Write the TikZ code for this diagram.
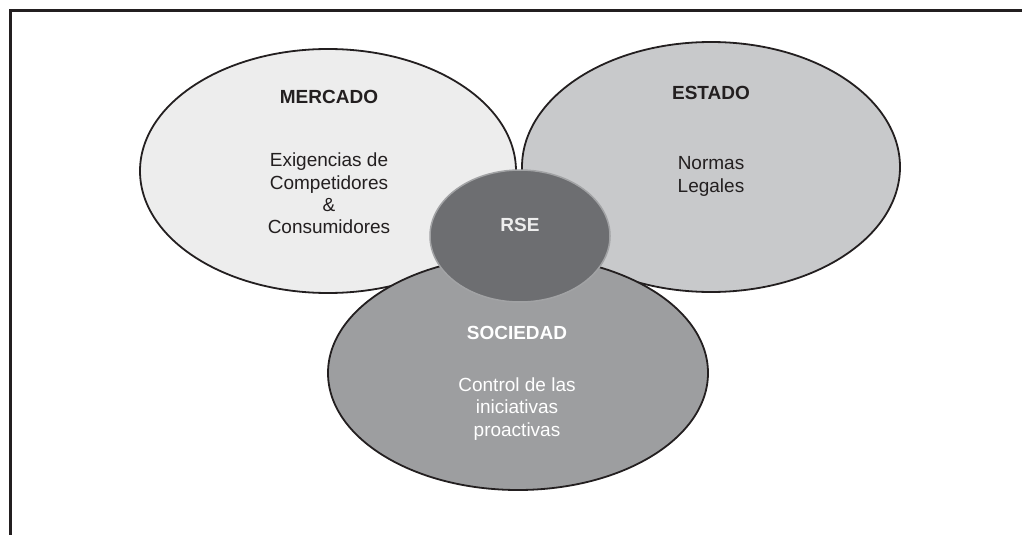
\documentclass[tikz,border=0pt]{standalone}
\usepackage{fontspec}
\setmainfont{Liberation Sans}
\usetikzlibrary{shapes.geometric}
\definecolor{grisclaro}{HTML}{EDEDED}
\definecolor{grismedio}{HTML}{C8C9CB}
\definecolor{grisoscuro}{HTML}{9D9EA0}
\definecolor{grisrse}{HTML}{6D6E71}
\definecolor{bordrse}{HTML}{A2A3A5}
\definecolor{tinta}{HTML}{231F20}

\begin{document}
\begin{tikzpicture}[x=1pt,y=-1pt,
        esfera/.style={ellipse,draw=tinta,line width=1.8pt,inner sep=0pt},
        titulo/.style={font=\bfseries\fontsize{19}{22.3}\selectfont},
        cuerpo/.style={align=center,font=\fontsize{19}{22.3}\selectfont}]
        \useasboundingbox (0,0) rectangle (1022,535);
        %marco
        \draw[tinta,line width=2.6pt] (10.5,535) -- (10.5,10.5) -- (1022,10.5);
        \node[esfera,fill=grisclaro,minimum width=376pt,minimum height=244pt] (mercado) at (328,171) {};
        \node[esfera,fill=grismedio,minimum width=378pt,minimum height=250pt] (estado) at (711,167) {};
        \node[esfera,fill=grisoscuro,minimum width=380pt,minimum height=234pt] (sociedad) at (518,373) {};
        \node[ellipse,fill=grisrse,draw=bordrse,line width=1.5pt,minimum width=180pt,minimum height=132pt] (rse) at (520,236) {};
        % textos
        \node[titulo,text=tinta] (tmercado) at (329,97) {MERCADO};
        \node[cuerpo,text=tinta] (cmercado) at (329,193.5) {Exigencias de\\Competidores\\\&\\Consumidores};
        \node[titulo,text=tinta] (testado) at (711,93) {ESTADO};
        \node[cuerpo,text=tinta] (cestado) at (711,176.5) {Normas\\Legales};
        \node[titulo,text=white] (tsociedad) at (517,333) {SOCIEDAD};
        \node[cuerpo,text=white] (csociedad) at (517,409) {Control de las\\iniciativas\\proactivas};
        \node[titulo,text=grisclaro] (trse) at (520,225) {RSE};
    \end{tikzpicture}
\end{document}
